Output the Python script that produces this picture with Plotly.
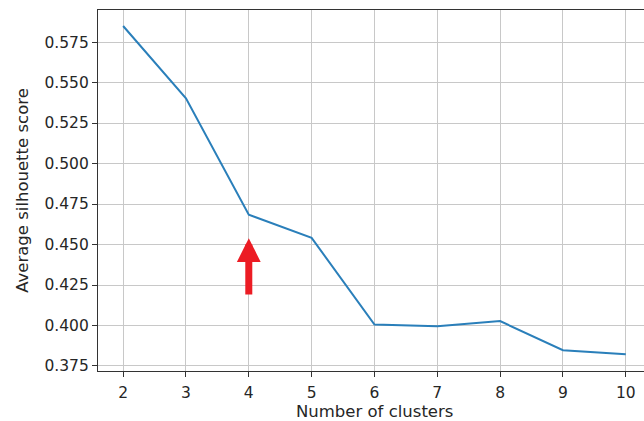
import plotly.graph_objects as go

# Average silhouette score for each number of clusters
n_clusters = [2, 3, 4, 5, 6, 7, 8, 9, 10]
silhouette = [0.5849, 0.5403, 0.4684, 0.4541, 0.4006, 0.3995, 0.4027, 0.3847, 0.3822]

# Red arrow pointing at the elbow (k = 4)
arrow_x = 4
arrow_tail = 0.4182
arrow_tip = 0.4539

x_ticks = [2, 3, 4, 5, 6, 7, 8, 9, 10]
y_ticks = [0.375, 0.400, 0.425, 0.450, 0.475, 0.500, 0.525, 0.550, 0.575]

x_range = [1.6, 10.29]
x_axis_full_end = 10.4  # axes run past the right edge of the page

font_family = "DejaVu Sans"
text_color = "#262626"
spine_color = "#333333"
grid_color = "#c8c8c8"
tick_size = 15.5
label_size = 16.5

fig = go.Figure()
fig.add_trace(go.Scatter(
    x=n_clusters, y=silhouette, mode="lines",
    line=dict(color="#2a7fba", width=2),
    hoverinfo="x+y", showlegend=False,
))

fig.add_annotation(
    x=arrow_x, y=arrow_tip, ax=arrow_x, ay=arrow_tail,
    xref="x", yref="y", axref="x", ayref="y",
    text="", showarrow=True,
    arrowhead=2, arrowsize=0.68, arrowwidth=7, arrowcolor="#ec1c24",
)

# x-axis title centred on the full axes span, which extends past the page edge
title_center = (x_range[0] + x_axis_full_end) / 2
fig.add_annotation(
    x=(title_center - x_range[0]) / (x_range[1] - x_range[0]), y=0,
    xref="paper", yref="paper", xanchor="center", yanchor="top",
    yshift=-29, showarrow=False, text="Number of clusters",
    font=dict(family=font_family, size=label_size, color=text_color),
)

fig.update_layout(
    width=644, height=421,
    margin=dict(l=98, r=0, t=10, b=50),
    paper_bgcolor="white", plot_bgcolor="white",
    font=dict(family=font_family, size=tick_size, color=text_color),
    xaxis=dict(
        range=x_range,
        tickmode="array", tickvals=x_ticks, ticktext=[str(v) for v in x_ticks],
        tickfont=dict(size=tick_size),
        showgrid=True, gridcolor=grid_color, gridwidth=1.3,
        showline=True, linecolor=spine_color, linewidth=1.3, mirror=True,
        ticks="outside", ticklen=5, tickwidth=1.3, tickcolor=spine_color,
        ticklabelstandoff=2,
        zeroline=False,
    ),
    yaxis=dict(
        range=[0.3719, 0.5948],
        tickmode="array", tickvals=y_ticks, ticktext=[f"{v:.3f}" for v in y_ticks],
        tickfont=dict(size=tick_size),
        showgrid=True, gridcolor=grid_color, gridwidth=1.3,
        showline=True, linecolor=spine_color, linewidth=1.3, mirror=False,
        ticks="outside", ticklen=5, tickwidth=1.3, tickcolor=spine_color,
        zeroline=False,
        title=dict(text="Average silhouette score", standoff=11,
                   font=dict(family=font_family, size=label_size, color=text_color)),
    ),
)

fig.write_html("out.html")
